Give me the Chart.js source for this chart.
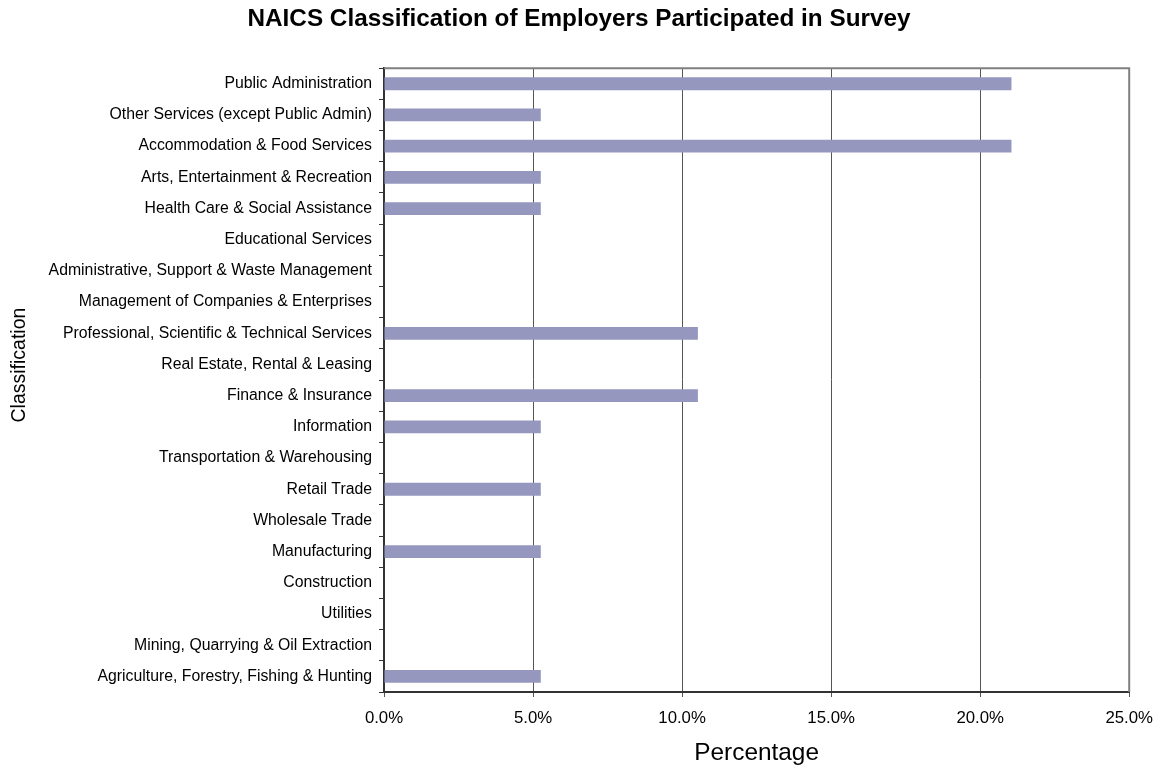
<!DOCTYPE html>
<html>
<head>
<meta charset="utf-8">
<script src="https://cdn.jsdelivr.net/npm/chart.js@4/dist/chart.umd.min.js"></script>
<style>
  html, body { margin: 0; padding: 0; background: #fff; }
</style>
</head>
<body>
<canvas id="myChart" width="1164" height="770"></canvas>
<script>
// categories, top to bottom
const categories = [
  "Public Administration",
  "Other Services (except Public Admin)",
  "Accommodation & Food Services",
  "Arts, Entertainment & Recreation",
  "Health Care & Social Assistance",
  "Educational Services",
  "Administrative, Support & Waste Management",
  "Management of Companies & Enterprises",
  "Professional, Scientific & Technical Services",
  "Real Estate, Rental & Leasing",
  "Finance & Insurance",
  "Information",
  "Transportation & Warehousing",
  "Retail Trade",
  "Wholesale Trade",
  "Manufacturing",
  "Construction",
  "Utilities",
  "Mining, Quarrying & Oil Extraction",
  "Agriculture, Forestry, Fishing & Hunting"
];
// percent of employers
const percentages = [21.05, 5.26, 21.05, 5.26, 5.26, 0, 0, 0, 10.53, 0, 10.53, 5.26, 0, 5.26, 0, 5.26, 0, 0, 0, 5.26];
const xTicks = [0, 5, 10, 15, 20, 25];

const FONT = "Arial, 'Liberation Sans', sans-serif";

// gray frame on top/right of plot area + y axis title (sits a bit above center)
const plotFrame = {
  id: 'plotFrame',
  afterDraw(chart) {
    const {ctx, chartArea: a} = chart;
    ctx.save();
    ctx.strokeStyle = '#808080';
    ctx.lineWidth = 2;
    ctx.beginPath();
    ctx.moveTo(a.left, a.top);
    ctx.lineTo(a.right, a.top);
    ctx.lineTo(a.right, a.bottom);
    ctx.stroke();

    ctx.translate(20, (a.top + a.bottom) / 2 - 15);
    ctx.rotate(-Math.PI / 2);
    ctx.fillStyle = '#000';
    ctx.font = '19.5px ' + FONT;
    ctx.textAlign = 'center';
    ctx.textBaseline = 'middle';
    ctx.fillText('Classification', 0, 0);
    ctx.restore();
  }
};

new Chart(document.getElementById('myChart').getContext('2d'), {
  type: 'bar',
  data: {
    labels: categories,
    datasets: [{
      label: 'Percentage',
      data: percentages,
      backgroundColor: '#9597bf',
      borderWidth: 0,
      barPercentage: 0.41,
      categoryPercentage: 1
    }]
  },
  options: {
    indexAxis: 'y',
    responsive: false,
    animation: false,
    layout: { padding: { left: 24, right: 30, top: 0, bottom: 0 } },
    plugins: {
      legend: { display: false },
      tooltip: { enabled: false },
      title: {
        display: true,
        text: 'NAICS Classification of Employers Participated in Survey',
        color: '#000',
        font: { family: FONT, size: 24.3, weight: 'bold' },
        padding: { top: 5, bottom: 34 }
      }
    },
    scales: {
      x: {
        min: 0,
        max: 25,
        afterBuildTicks: (scale) => { scale.ticks = xTicks.map(v => ({value: v})); },
        afterFit: (scale) => { scale.height = 78; },
        ticks: {
          color: '#000',
          font: { family: FONT, size: 16.8 },
          padding: 11,
          maxRotation: 0,
          callback: (v) => Number(v).toFixed(1) + '%'
        },
        grid: {
          color: '#555',
          lineWidth: 1,
          tickLength: 5
        },
        border: { color: '#333', width: 2 },
        title: {
          display: true,
          text: 'Percentage',
          color: '#000',
          font: { family: FONT, size: 24.4 },
          padding: { top: 0, bottom: 2 }
        }
      },
      y: {
        afterFit: (scale) => { scale.width = 360; },
        ticks: {
          color: '#000',
          font: { family: FONT, size: 15.8 },
          padding: 7,
          autoSkip: false
        },
        grid: {
          offset: true,
          drawOnChartArea: false,
          color: '#333',
          tickLength: 5
        },
        border: { color: '#333', width: 2 }
      }
    }
  },
  plugins: [plotFrame]
});
</script>
</body>
</html>
